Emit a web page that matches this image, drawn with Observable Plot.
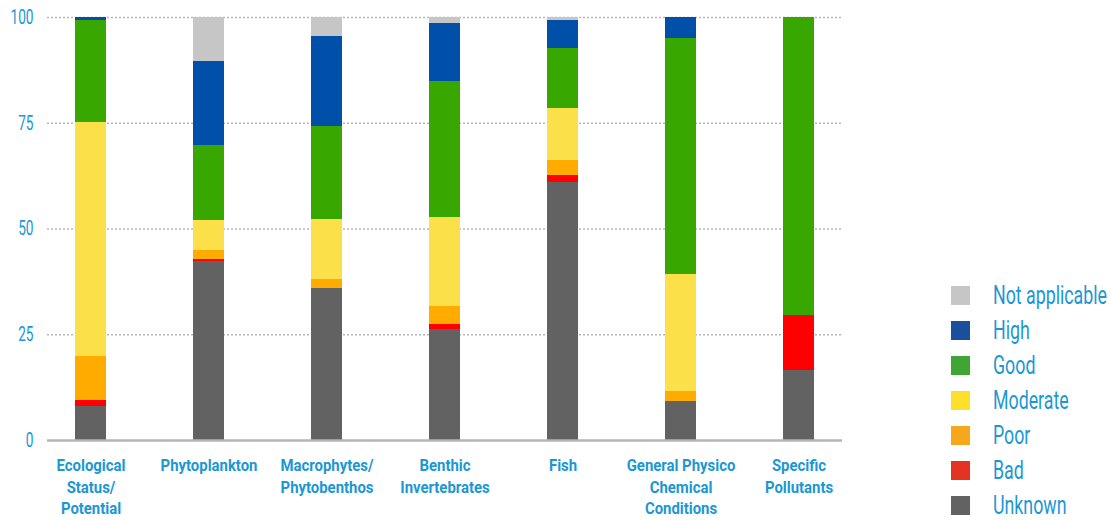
<!DOCTYPE html>
<html>
<head>
<meta charset="utf-8">
<script src="https://cdn.jsdelivr.net/npm/d3@7"></script>
<script src="https://cdn.jsdelivr.net/npm/@observablehq/plot@0.6"></script>
<style>
  html, body { margin: 0; padding: 0; background: #fff; }
  #wrap { position: relative; width: 1111px; height: 520px; font-family: Roboto, sans-serif; }
  #legend { position: absolute; left: 951px; top: 278px; }
  .row { display: flex; align-items: center; height: 35px; white-space: nowrap; }
  .sw { width: 19px; height: 19px; margin-right: 23px; flex: none; }
  .lab { display: inline-block; color: #1c97d3; font-size: 25px; line-height: 25px; transform-origin: left center; }
</style>
</head>
<body>
<div id="wrap"><div id="legend"></div></div>
<script>
const categories = ["Ecological\nStatus/\nPotential", "Phytoplankton", "Macrophytes/\nPhytobenthos", "Benthic\nInvertebrates", "Fish", "General Physico\nChemical\nConditions", "Specific\nPollutants"];
const statuses = ["Unknown", "Bad", "Poor", "Moderate", "Good", "High", "Not applicable"];
const unknown       = [8.1, 42.3, 35.9, 26.2, 61.0, 9.2, 16.6];
const bad           = [1.4, 0.5, 0.0, 1.2, 1.6, 0.0, 12.9];
const poor          = [10.4, 2.1, 2.1, 4.3, 3.5, 2.4, 0.0];
const moderate      = [55.3, 7.1, 14.2, 21.0, 12.3, 27.6, 0.0];
const good          = [24.1, 17.7, 22.0, 32.1, 14.2, 55.8, 70.5];
const high          = [0.7, 19.8, 21.2, 13.7, 6.6, 5.0, 0.0];
const notApplicable = [0.0, 10.5, 4.6, 1.5, 0.8, 0.0, 0.0];
const barColors    = ["#626262", "#ff0000", "#ffab00", "#fbe04a", "#38a800", "#004fa8", "#c6c6c6"];
const legendColors = ["#626262", "#e53323", "#f5a81c", "#fde02c", "#3fa535", "#1a4f9c", "#c6c6c6"];
const yTicks = [0, 25, 50, 75, 100];

const series = [unknown, bad, poor, moderate, good, high, notApplicable];
const rows = [];
categories.forEach((c, i) => {
  statuses.forEach((s, j) => rows.push({category: c, status: s, value: series[j][i]}));
});

// measure text widths to emulate the condensed face of the original
const ctx = document.createElement("canvas").getContext("2d");
function measure(txt, font) { ctx.font = font; return ctx.measureText(txt).width; }
const xScaleF = 97 / measure("Phytoplankton", "bold 17px Roboto");
const yScaleF = 23 / measure("100", "20px Roboto");
const legScaleF = 114 / measure("Not applicable", "25px Roboto");

const blue = "#1c97d3";
const chart = Plot.plot({
  width: 1111,
  height: 520,
  marginLeft: 47,
  marginRight: 269,
  marginTop: 17,
  marginBottom: 80,
  style: {fontFamily: "Roboto, sans-serif", background: "#fff"},
  x: {domain: categories, paddingInner: 0.737, paddingOuter: 0.237, label: null},
  y: {domain: [0, 100], label: null},
  color: {domain: statuses, range: barColors},
  marks: [
    Plot.gridY(yTicks.filter(d => d > 0), {stroke: "#b8b8b8", strokeOpacity: 1, strokeWidth: 1.5, strokeDasharray: "2,2"}),
    Plot.barY(rows, {x: "category", y: "value", fill: "status", order: statuses, shapeRendering: "crispEdges"}),
    Plot.ruleY([0], {stroke: "#b4b4b4", strokeWidth: 2.5}),
    Plot.axisY({ticks: yTicks, tickSize: 0, tickPadding: 14, fontSize: 20, fill: blue, label: null}),
    Plot.axisX({tickSize: 0, tickPadding: 16, fontSize: 17, fontWeight: "bold", fill: blue, lineHeight: 1.24, label: null})
  ]
});
document.getElementById("wrap").prepend(chart);

function condense(selector, s) {
  chart.querySelectorAll(selector).forEach(t => {
    const tr = t.getAttribute("transform") || "";
    const xa = parseFloat(t.getAttribute("x")) || 0;
    const ya = parseFloat(t.getAttribute("y")) || 0;
    t.setAttribute("transform", `${tr} translate(${xa},${ya}) scale(${s},1) translate(${-xa},${-ya})`);
  });
}
condense('g[aria-label="x-axis tick label"] text', xScaleF);
condense('g[aria-label="y-axis tick label"] text', yScaleF);

const legend = document.getElementById("legend");
statuses.map((s, j) => ({s, c: legendColors[j]})).reverse().forEach(({s, c}) => {
  const r = document.createElement("div");
  r.className = "row";
  r.innerHTML = `<div class="sw" style="background:${c}"></div><div class="lab" style="transform:scaleX(${legScaleF})">${s}</div>`;
  legend.appendChild(r);
});
</script>
</body>
</html>
